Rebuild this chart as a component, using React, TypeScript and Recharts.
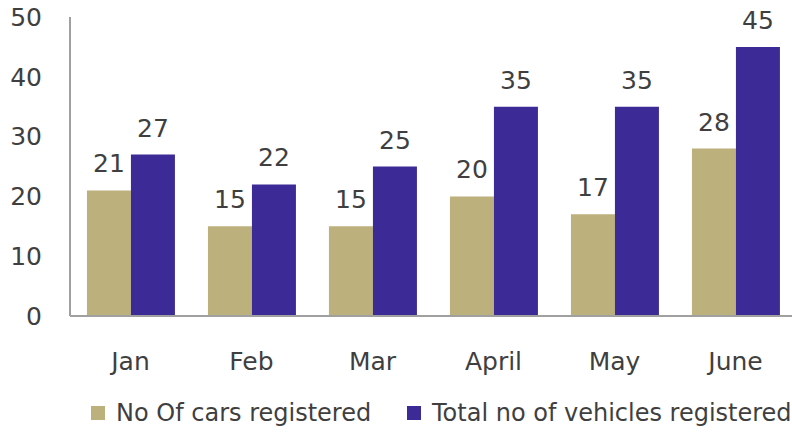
import { BarChart, Bar, XAxis, YAxis, Legend, LabelList } from "recharts"

const months = ["Jan", "Feb", "Mar", "April", "May", "June"]
const carsRegistered = [21, 15, 15, 20, 17, 28]
const vehiclesRegistered = [27, 22, 25, 35, 35, 45]
const yTicks = [0, 10, 20, 30, 40, 50]

const seriesNames = ["No Of cars registered", "Total no of vehicles registered"]
const seriesColors = ["#bcb07c", "#3c2a96"]

const data = months.map((m, i) => ({
  name: m,
  cars: carsRegistered[i],
  vehicles: vehiclesRegistered[i],
}))

const font = "'DejaVu Sans', sans-serif"
const textColor = "#3f3f3f"

function ChartLegend() {
  return (
    <div style={{ display: "flex", alignItems: "center", paddingLeft: 91, height: 32, fontFamily: font, fontSize: 24, color: textColor, whiteSpace: "nowrap" }}>
      {seriesNames.map((n, i) => (
        <div key={n} style={{ display: "flex", alignItems: "center", width: i === 0 ? 316 : undefined }}>
          <span style={{ display: "inline-block", width: 14, height: 14, background: seriesColors[i], marginRight: 11 }} />
          <span>{n}</span>
        </div>
      ))}
    </div>
  )
}

export default function App() {
  return (
    <div style={{ position: "absolute", left: 0, top: 0, width: 792, height: 447, overflow: "hidden", background: "#fff" }}>
      <BarChart
        width={796}
        height={447}
        data={data}
        margin={{ top: 17, right: 0, left: 0, bottom: 0 }}
        barCategoryGap="14%"
        barGap={0}
      >
        <XAxis
          dataKey="name"
          height={81}
          tickLine={false}
          tickSize={0}
          tickMargin={36}
          stroke="#a0a0a0"
          strokeWidth={2}
          tick={{ fill: textColor, fontSize: 25, fontFamily: font }}
        />
        <YAxis
          width={70}
          domain={[0, 50]}
          ticks={yTicks}
          tickLine={false}
          tickSize={0}
          tickMargin={28}
          stroke="#a0a0a0"
          strokeWidth={2}
          tick={{ fill: textColor, fontSize: 25, fontFamily: font }}
        />
        <Legend
          verticalAlign="bottom"
          height={50}
          wrapperStyle={{ left: 0, width: 796 }}
          content={() => <ChartLegend />}
        />
        <Bar dataKey="cars" name={seriesNames[0]} fill={seriesColors[0]} isAnimationActive={false}>
          <LabelList dataKey="cars" position="top" offset={18} fill={textColor} fontSize={25} fontFamily={font} />
        </Bar>
        <Bar dataKey="vehicles" name={seriesNames[1]} fill={seriesColors[1]} isAnimationActive={false}>
          <LabelList dataKey="vehicles" position="top" offset={18} fill={textColor} fontSize={25} fontFamily={font} />
        </Bar>
      </BarChart>
    </div>
  )
}
